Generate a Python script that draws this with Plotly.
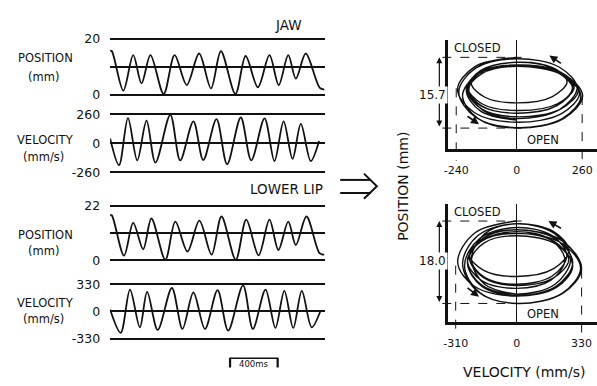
import plotly.graph_objects as go

W, H = 597, 386

# ---------------- data ----------------
# time series, time in ms
jaw_pos_t = [0, 15, 111, 194, 264, 339, 450, 542, 644, 748, 848, 931, 1053, 1139, 1242, 1339, 1417, 1497, 1561, 1644, 1760, 1800]
jaw_pos_mm = [15.8, 15.6, 1.5, 14.2, 4.1, 14.2, 0.3, 14.2, 3.5, 14.8, 2.3, 15.6, 0.3, 13.9, 2.7, 14.2, 3.5, 14.2, 5.8, 14.8, 2.6, 1.9]

jaw_vel_t = [0, 75, 150, 228, 306, 381, 506, 589, 700, 783, 894, 983, 1098, 1186, 1298, 1381, 1458, 1533, 1603, 1686, 1756]
jaw_vel = [43, -196, 225, -153, 203, -173, 255, -153, 197, -150, 217, -187, 231, -153, 223, -159, 197, -139, 173, -159, 21]

lip_pos_t = [0, 15, 117, 194, 278, 347, 464, 548, 650, 750, 853, 936, 1056, 1144, 1248, 1339, 1414, 1497, 1561, 1650, 1760, 1800]
lip_pos_mm = [18.2, 18.0, 1.8, 15.0, 4.4, 16.8, 0.2, 15.5, 3.5, 15.9, 2.2, 17.6, 0.2, 16.3, 1.9, 16.3, 4.1, 15.5, 6.1, 17.6, 2.8, 2.2]

lip_vel_t = [0, 89, 167, 250, 311, 400, 519, 608, 700, 797, 903, 992, 1117, 1200, 1306, 1389, 1464, 1539, 1611, 1694, 1769]
lip_vel = [24, -259, 267, -193, 239, -224, 286, -212, 231, -212, 259, -232, 318, -212, 267, -200, 251, -200, 251, -193, 12]

# phase-plane paths: velocity (mm/s) and position (mm above minimum), traced in time order
jaw_ph_v = [0, -167, -235, -167, 0, 178, 250, 178,
            0, -138, -195, -138, 0, 162, 228, 162,
            0, -153, -215, -153, 0, 186, 262, 186,
            0, -138, -195, -138, 0, 158, 222, 158,
            0, -135, -190, -135, 0, 170, 240, 170,
            0, -163, -230, -163, 0, 181, 255, 181,
            0, -138, -195, -138, 0, 174, 245, 174,
            0, -142, -200, -142, 0, 158, 222, 158,
            0, -128, -180, -128, 0, 142, 200, 142,
            0, -142, -200, -142, 0]
jaw_ph_p = [15.7, 13.6, 8.6, 3.4, 1.3, 3.2, 7.8, 12.2,
            14.0, 12.6, 9.1, 5.4, 3.9, 5.4, 9.1, 12.6,
            14.0, 12.0, 7.2, 2.1, 0.0, 2.1, 7.2, 12.0,
            14.0, 12.5, 8.8, 4.9, 3.3, 5.0, 9.1, 13.0,
            14.6, 12.8, 8.5, 4.0, 2.1, 4.1, 8.9, 13.5,
            15.4, 13.3, 8.0, 2.4, 0.1, 2.1, 7.1, 11.8,
            13.7, 12.1, 8.3, 4.2, 2.5, 4.2, 8.4, 12.4,
            14.0, 12.5, 8.8, 4.9, 3.3, 4.9, 8.8, 12.5,
            14.0, 12.8, 10.0, 6.9, 5.6, 7.0, 10.3, 13.4,
            14.6, 12.8, 8.4, 3.7, 1.8]

lip_ph_v = [0, -213, -300, -213, 0, 202, 285, 202,
            0, -163, -230, -163, 0, 181, 255, 181,
            0, -188, -265, -188, 0, 231, 325, 231,
            0, -178, -250, -178, 0, 174, 245, 174,
            0, -178, -250, -178, 0, 195, 275, 195,
            0, -195, -275, -195, 0, 234, 330, 234,
            0, -178, -250, -178, 0, 202, 285, 202,
            0, -170, -240, -170, 0, 188, 265, 188,
            0, -170, -240, -170, 0, 188, 265, 188,
            0, -163, -230, -163, 0]
lip_ph_p = [18.0, 15.4, 9.0, 3.7, 1.6, 3.5, 8.2, 12.9,
            14.8, 13.3, 9.5, 5.7, 4.2, 6.0, 10.4, 14.8,
            16.6, 14.2, 8.3, 2.4, 0.0, 2.2, 7.7, 13.1,
            15.3, 13.6, 9.3, 5.0, 3.3, 5.1, 9.5, 13.9,
            15.7, 13.7, 8.9, 4.0, 2.0, 4.2, 9.7, 15.2,
            17.4, 14.9, 8.7, 2.5, 0.0, 2.2, 7.6, 13.6,
            16.1, 14.0, 8.9, 3.8, 1.7, 3.8, 8.9, 14.0,
            16.1, 14.3, 10.0, 5.7, 3.9, 5.6, 9.6, 13.6,
            15.3, 13.9, 10.6, 7.3, 5.9, 7.6, 11.6, 15.7,
            17.4, 15.2, 9.7, 4.2, 2.0]

jaw_range_mm = 15.7
lip_range_mm = 18.0
jaw_vel_ticks = [-240, 0, 260]
lip_vel_ticks = [-310, 0, 330]

jaw_pos_ticks = [0, 10, 20]
jaw_velgrid = [-260, 0, 260]
lip_pos_ticks = [0, 11, 22]
lip_velgrid = [-330, 0, 330]
scale_bar_ms = [1008, 1408]

# ---------------- helpers ----------------
def PX(x):
    return x / W

def PY(y):
    return 1 - y / H

def ydom(top, bottom):
    return [PY(bottom), PY(top)]

FONT = "DejaVu Sans"
BLACK = "#111111"

fig = go.Figure()

tl = dict(color=BLACK, width=1.8, shape="spline", smoothing=0.9)
fig.add_trace(go.Scatter(x=jaw_pos_t, y=jaw_pos_mm, mode="lines", line=tl, xaxis="x", yaxis="y"))
fig.add_trace(go.Scatter(x=jaw_vel_t, y=jaw_vel, mode="lines", line=tl, xaxis="x2", yaxis="y2"))
fig.add_trace(go.Scatter(x=lip_pos_t, y=lip_pos_mm, mode="lines", line=tl, xaxis="x3", yaxis="y3"))
fig.add_trace(go.Scatter(x=lip_vel_t, y=lip_vel, mode="lines", line=tl, xaxis="x4", yaxis="y4"))

pl = dict(color=BLACK, width=1.4, shape="spline", smoothing=1.0)
fig.add_trace(go.Scatter(x=jaw_ph_v, y=jaw_ph_p, mode="lines", line=pl, xaxis="x5", yaxis="y5"))
fig.add_trace(go.Scatter(x=lip_ph_v, y=lip_ph_p, mode="lines", line=pl, xaxis="x6", yaxis="y6"))

# ---------------- axes ----------------
left_dom = [PX(106), PX(323)]
xcommon = dict(domain=left_dom, range=[0, 1808.3], visible=False)
tickfont = dict(family=FONT, size=12.5, color=BLACK)

def yleft(dom, rng, tv, tt):
    return dict(domain=dom, range=rng, tickvals=tv, ticktext=tt, showgrid=True,
                gridcolor=BLACK, gridwidth=1.5, zeroline=False, showline=False,
                ticks="", tickfont=tickfont, ticklabelstandoff=9, fixedrange=True)

layout = dict(
    width=W, height=H, margin=dict(l=0, r=0, t=0, b=0),
    paper_bgcolor="white", plot_bgcolor="rgba(0,0,0,0)", showlegend=False,
    xaxis=dict(xcommon, anchor="y"),
    xaxis2=dict(xcommon, anchor="y2"),
    xaxis3=dict(xcommon, anchor="y3"),
    xaxis4=dict(xcommon, anchor="y4"),
    yaxis=dict(yleft(ydom(32.56, 93.14), [-0.5, 20.5], jaw_pos_ticks, ["0", "", "20"]), anchor="x"),
    yaxis2=dict(yleft(ydom(109.4, 174.0), [-280, 280], jaw_velgrid, ["-260", "0", "260"]), anchor="x2"),
    yaxis3=dict(yleft(ydom(204.7, 263.6), [-0.5, 22.5], lip_pos_ticks, ["0", "", "22"]), anchor="x3"),
    yaxis4=dict(yleft(ydom(285.2, 345.4), [-355, 355], lip_velgrid, ["-330", "0", "330"]), anchor="x4"),
)

ph_font = dict(family=FONT, size=11, color=BLACK)

def xphase(rng, tv, anchor):
    return dict(domain=[PX(447), 1.0], range=rng, tickvals=tv, ticktext=[str(v) for v in tv],
                showline=True, linecolor=BLACK, linewidth=2.5, zeroline=True,
                zerolinecolor=BLACK, zerolinewidth=1, showgrid=False, ticks="",
                tickfont=ph_font, ticklabelstandoff=9, anchor=anchor, fixedrange=True)

def yphase(dom, rng, anchor):
    return dict(domain=dom, range=rng, showline=True, linecolor=BLACK, linewidth=2.5,
                zeroline=False, showgrid=False, showticklabels=False, ticks="",
                anchor=anchor, fixedrange=True)

layout["xaxis5"] = xphase([-271.65, 318.9], jaw_vel_ticks, "y5")
layout["yaxis5"] = yphase(ydom(35, 148), [-4.73, 19.57], "x5")
layout["xaxis6"] = xphase([-347.7, 408.3], lip_vel_ticks, "y6")
layout["yaxis6"] = yphase(ydom(204, 326), [-4.02, 21.8], "x6")
fig.update_layout(**layout)

# ---------------- decorations ----------------
shapes = []
dash = dict(color=BLACK, width=1, dash="dash")

def phase_guides(yax, xax, rng_mm, vt, vleft_top, vright_top, vbottom):
    for p in (0, rng_mm):
        shapes.append(dict(type="line", xref="paper", yref=yax, x0=PX(441), x1=PX(521), y0=p, y1=p, line=dash))
    shapes.append(dict(type="line", xref=xax, yref="paper", x0=vt[0], x1=vt[0], y0=PY(vleft_top), y1=PY(vbottom), line=dash))
    shapes.append(dict(type="line", xref=xax, yref="paper", x0=vt[2], x1=vt[2], y0=PY(vright_top), y1=PY(vbottom), line=dash))

phase_guides("y5", "x5", jaw_range_mm, jaw_vel_ticks, 85, 93, 160)
phase_guides("y6", "x6", lip_range_mm, lip_vel_ticks, 268, 272, 338)

# big double arrow =>
big = dict(color=BLACK, width=2)
shapes.append(dict(type="line", xref="paper", yref="paper", x0=PX(338), x1=PX(369), y0=PY(179.5), y1=PY(179.5), line=big))
shapes.append(dict(type="line", xref="paper", yref="paper", x0=PX(338), x1=PX(369), y0=PY(193), y1=PY(193), line=big))
shapes.append(dict(type="path", xref="paper", yref="paper",
                   path=f"M {PX(362)},{PY(173)} L {PX(375)},{PY(186)} L {PX(362)},{PY(199)}", line=big))

# 400 ms scale bar
shapes.append(dict(type="line", xref="x4", yref="paper", x0=scale_bar_ms[0], x1=scale_bar_ms[1], y0=PY(363.5), y1=PY(363.5), line=dict(color=BLACK, width=1.5)))
for t in scale_bar_ms:
    shapes.append(dict(type="line", xref="x4", yref="paper", x0=t, x1=t, y0=PY(363), y1=PY(373), line=dict(color=BLACK, width=2.2)))

fig.update_layout(shapes=shapes)

ann = []

def txt(x, y, s, size=11, family=FONT, angle=0):
    ann.append(dict(x=PX(x), y=PY(y), xref="paper", yref="paper", text=s, showarrow=False,
                    xanchor="center", yanchor="middle", textangle=angle,
                    font=dict(family=family, size=size, color=BLACK)))

# left labels
for (yy1, yy2, a, b) in [(54, 73, "POSITION", "(mm)"), (138, 156, "VELOCITY", "(mm/s)"),
                          (236, 253, "POSITION", "(mm)"), (307, 323, "VELOCITY", "(mm/s)")]:
    txt(41, yy1, a, 11.5)
    txt(39, yy2, b, 11.5)
txt(286, 20, "JAW", 13.5)
txt(284, 189, "LOWER LIP", 13.5)
ann.append(dict(x=sum(scale_bar_ms) / 2, y=PY(369), xref="x4", yref="paper", text="400ms",
                showarrow=False, xanchor="center", yanchor="middle",
                font=dict(family=FONT, size=8.5, color=BLACK)))

# right labels
txt(402, 186, "POSITION (mm)", 14, angle=-90)
txt(523, 378, "VELOCITY (mm/s)", 14)

def phase_text(yax, rng_mm, label_y, closed_y, open_y, arrows):
    ann.append(dict(x=PX(438), y=rng_mm, xref="paper", yref=yax, ax=0, ay=0, axref="pixel", ayref=yax,
                    text="", showarrow=True, arrowhead=2, startarrowhead=2, arrowside="end+start",
                    arrowsize=1, arrowwidth=1.2, arrowcolor=BLACK, standoff=0, startstandoff=0))
    ann.append(dict(x=PX(431), y=PY(label_y), xref="paper", yref="paper", text=f"{rng_mm:.1f}",
                    showarrow=False, xanchor="center", yanchor="middle", bgcolor="white",
                    font=dict(family=FONT, size=12, color=BLACK)))
    txt(476, closed_y, "CLOSED", 11.5)
    txt(543, open_y, "OPEN", 11.5)
    for (hx, hy, dx, dy) in arrows:
        ann.append(dict(x=PX(hx), y=PY(hy), xref="paper", yref="paper", ax=dx, ay=dy, text="",
                        showarrow=True, arrowhead=2, arrowsize=1, arrowwidth=1.6, arrowcolor=BLACK))

phase_text("y5", jaw_range_mm, 92, 43, 138, [(549, 51, 13, 9), (478, 122, -13, -9)])
phase_text("y6", lip_range_mm, 263, 213, 318, [(548, 222, 14, 8), (478, 300, -13, -10)])

fig.update_layout(annotations=ann)

fig.write_html("out.html", config={"displayModeBar": False},
               post_script="document.body.style.margin='0';document.body.style.padding='0';")
